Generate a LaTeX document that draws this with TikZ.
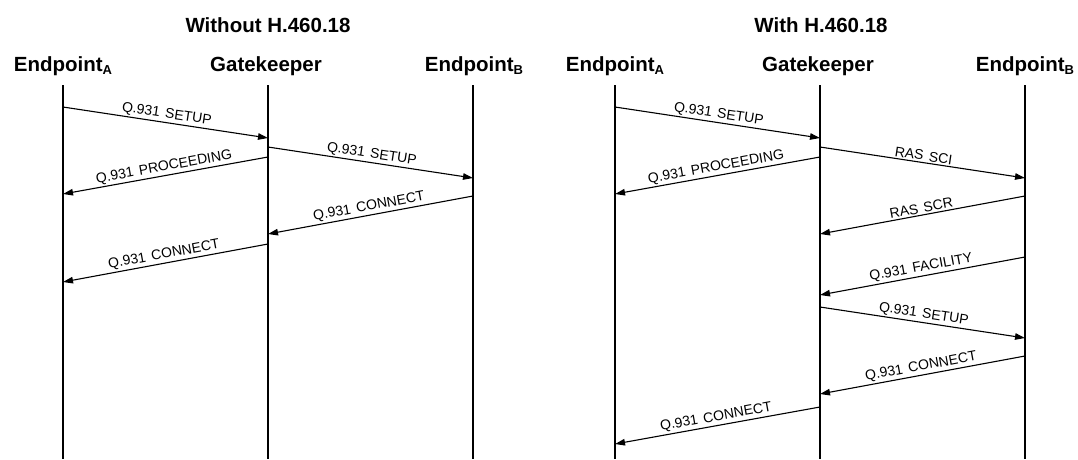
\documentclass[tikz,border=0pt]{standalone}
\usepackage{fontspec}
\setmainfont{Liberation Sans}
\usetikzlibrary{arrows.meta}
\newcommand{\epsub}[1]{\raisebox{-3pt}{\fontsize{13}{13}\selectfont #1}}
\newcommand{\lblfnt}{\fontsize{14}{17}\selectfont\spaceskip=0.4em\relax}
\begin{document}
\begin{tikzpicture}[x=1pt,y=-1pt,
  hdr/.style={font=\fontsize{20.5}{24}\selectfont\bfseries, inner sep=0pt, anchor=base},
  msg/.style={line width=1.1pt, -{Triangle[length=10pt,width=6.5pt]}},
  lbl/.style={font=\lblfnt, sloped, above, inner sep=1.5pt},
  life/.style={line width=1.4pt}]
\useasboundingbox (0,0) rectangle (1078,459);

% titles
\node[hdr] (t1) at (268,32) {Without H.460.18};
\node[hdr] (t2) at (821,32) {With H.460.18};

% headers
\node[hdr] (LA) at (63,71) {Endpoint\epsub{A}};
\node[hdr] (LG) at (266,71) {Gatekeeper};
\node[hdr] (LB) at (474,71) {Endpoint\epsub{B}};
\node[hdr] (RA) at (615,71) {Endpoint\epsub{A}};
\node[hdr] (RG) at (818,71) {Gatekeeper};
\node[hdr] (RB) at (1025,71) {Endpoint\epsub{B}};

% lifelines
\foreach \n/\x in {la/63, lg/268, lb/473, ra/615, rg/820, rb/1025}{
  \coordinate (\n top) at (\x,85);
  \coordinate (\n bot) at (\x,459);
  \draw[life] (\n top) -- (\n bot);
}

% left diagram message end points
\coordinate (l1s) at (63,107);   \coordinate (l1e) at (268,138);
\coordinate (l2s) at (268,147);  \coordinate (l2e) at (473,178);
\coordinate (l3s) at (268,157);  \coordinate (l3e) at (63,194);
\coordinate (l4s) at (473,196);  \coordinate (l4e) at (268,234);
\coordinate (l5s) at (268,244);  \coordinate (l5e) at (63,282);

\draw[msg] (l1s) -- node[lbl] {Q.931 SETUP} (l1e);
\draw[msg] (l2s) -- node[lbl] {Q.931 SETUP} (l2e);
\draw[msg] (l3s) -- node[lbl] {Q.931 PROCEEDING} (l3e);
\draw[msg] (l4s) -- node[lbl] {Q.931 CONNECT} (l4e);
\draw[msg] (l5s) -- node[lbl] {Q.931 CONNECT} (l5e);

% right diagram message end points
\coordinate (r1s) at (615,107);  \coordinate (r1e) at (820,138);
\coordinate (r2s) at (820,147);  \coordinate (r2e) at (1025,178);
\coordinate (r3s) at (820,157);  \coordinate (r3e) at (615,194);
\coordinate (r4s) at (1025,196); \coordinate (r4e) at (820,234);
\coordinate (r5s) at (1025,257); \coordinate (r5e) at (820,295);
\coordinate (r6s) at (820,307);  \coordinate (r6e) at (1025,338);
\coordinate (r7s) at (1025,356); \coordinate (r7e) at (820,394);
\coordinate (r8s) at (820,407);  \coordinate (r8e) at (615,444);

\draw[msg] (r1s) -- node[lbl] {Q.931 SETUP} (r1e);
\draw[msg] (r2s) -- node[lbl] {RAS SCI} (r2e);
\draw[msg] (r3s) -- node[lbl] {Q.931 PROCEEDING} (r3e);
\draw[msg] (r4s) -- node[lbl] {RAS SCR} (r4e);
\draw[msg] (r5s) -- node[lbl] {Q.931 FACILITY} (r5e);
\draw[msg] (r6s) -- node[lbl] {Q.931 SETUP} (r6e);
\draw[msg] (r7s) -- node[lbl] {Q.931 CONNECT} (r7e);
\draw[msg] (r8s) -- node[lbl] {Q.931 CONNECT} (r8e);
\end{tikzpicture}
\end{document}
